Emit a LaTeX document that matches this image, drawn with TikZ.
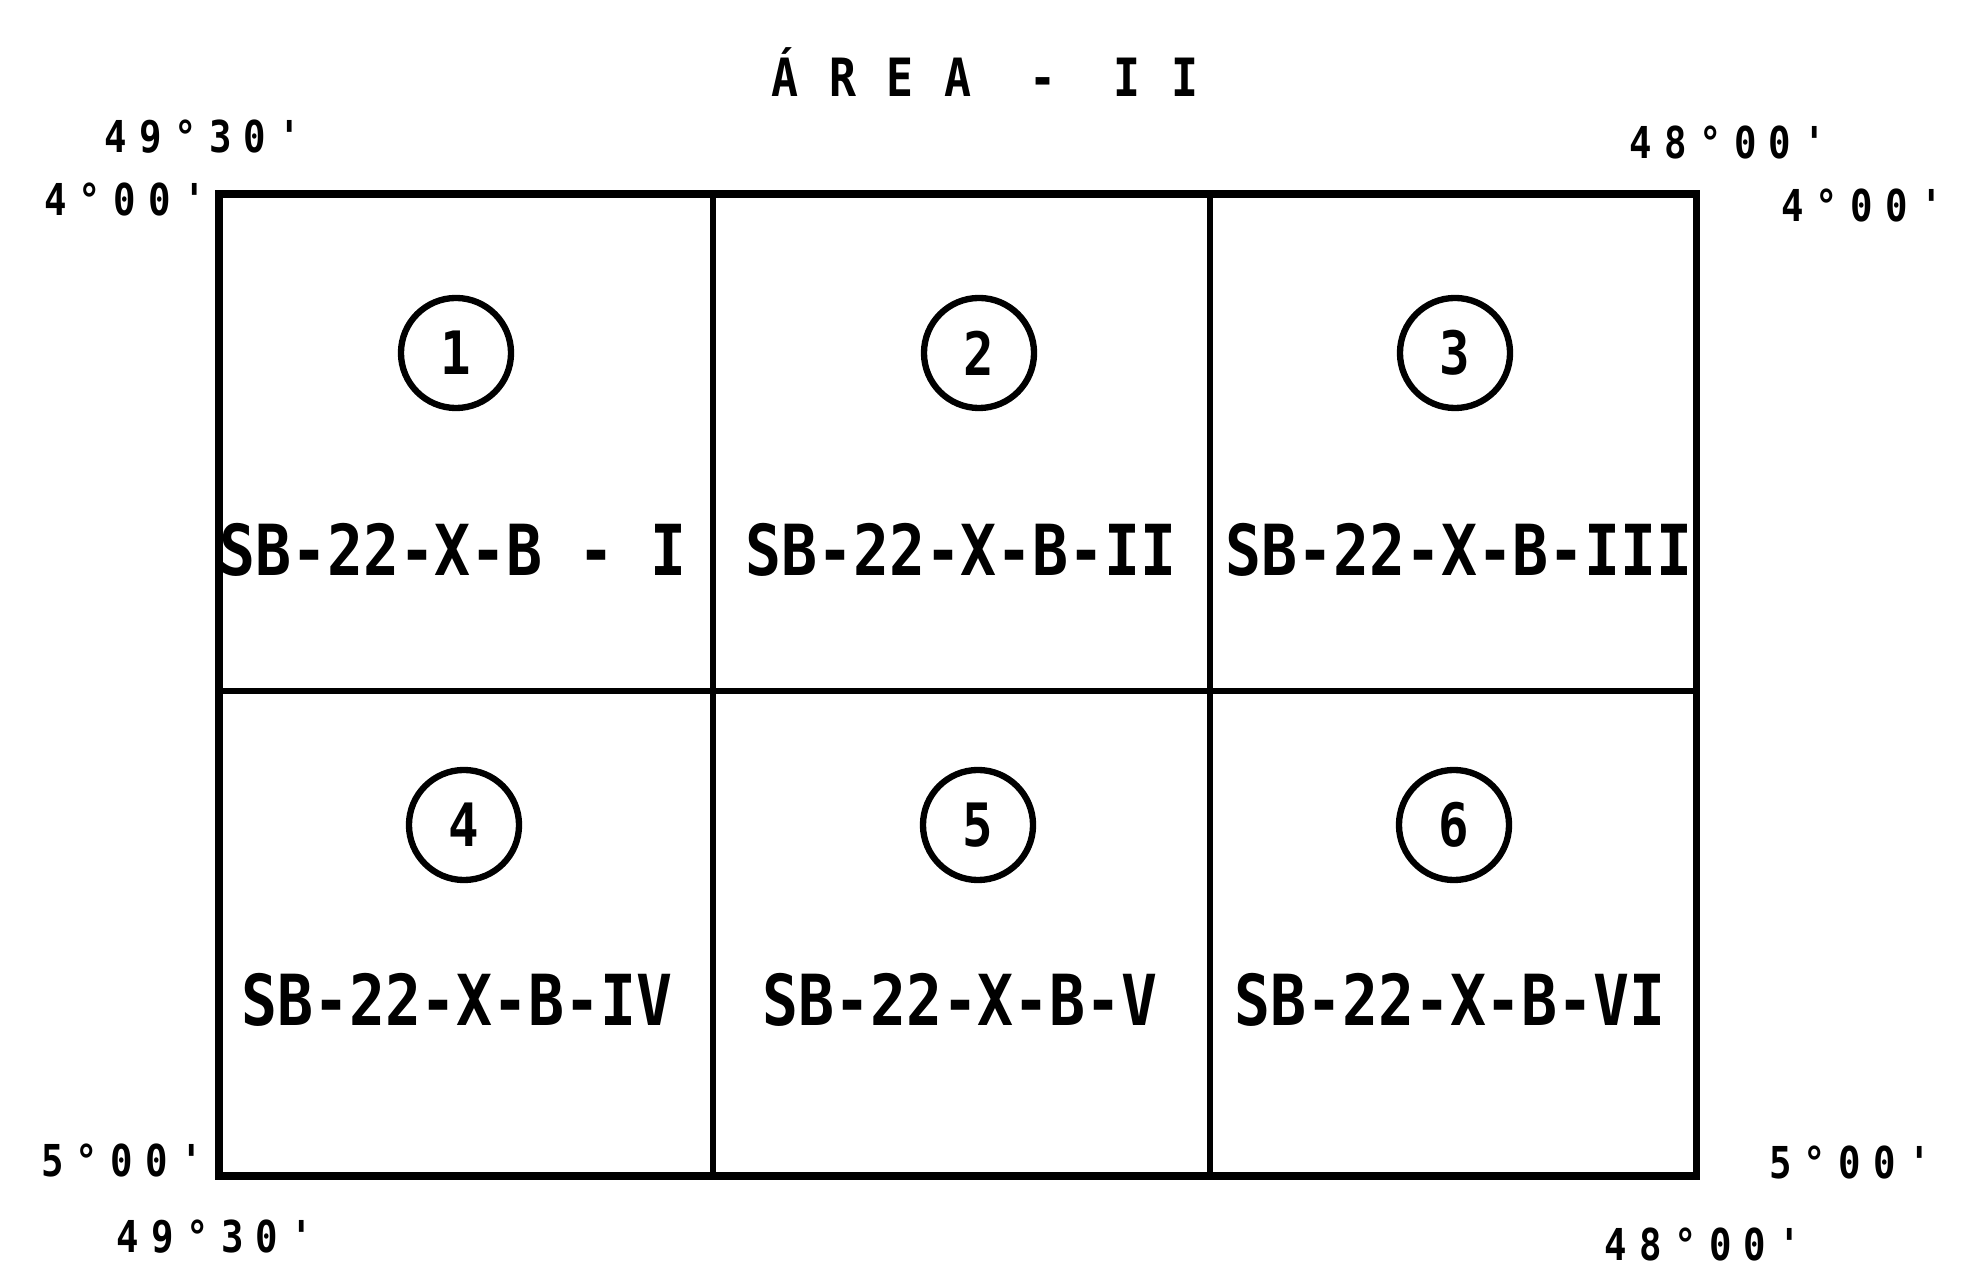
\documentclass[tikz,border=0pt]{standalone}
\usepackage{fontspec}
\newfontfamily\lettering[FakeStretch=0.85]{DejaVu Sans Mono}
\begin{document}
\begin{tikzpicture}[x=0.01cm,y=-0.01cm,
  every node/.style={inner sep=0pt,font=\lettering\bfseries},
  num/.style={circle,draw,line width=1.8pt,minimum size=1.1cm,font=\lettering\bfseries\fontsize{17}{17}\selectfont},
  sheet/.style={font=\lettering\bfseries\fontsize{20}{20}\selectfont},
  deg/.style={font=\lettering\bfseries\fontsize{12.5}{12.5}\selectfont\addfontfeature{LetterSpace=28}},
  head/.style={font=\lettering\bfseries\fontsize{15}{15}\selectfont\addfontfeature{LetterSpace=58}}]
  \useasboundingbox (0,0) rectangle (1961,1280);
  \coordinate (nw) at (219,194); \coordinate (ne) at (1696,194);
  \coordinate (sw) at (219,1176); \coordinate (se) at (1696,1176);
  \coordinate (w) at (219,691); \coordinate (e) at (1696,691);
  \coordinate (n1) at (713,194); \coordinate (s1) at (713,1176);
  \coordinate (n2) at (1210,194); \coordinate (s2) at (1210,1176);
  \draw[line width=2pt] (nw)--(ne)--(se)--(sw)--cycle;
  \draw[line width=1.6pt] (w)--(e); \draw[line width=1.6pt] (n1)--(s1); \draw[line width=1.6pt] (n2)--(s2);
  \node[head] (title) at (985,72) {ÁREA - II};
  \node[deg] (lon1) at (203,137) {49°30'}; \node[deg] (lat1) at (125,200) {4°00'};
  \node[deg] (lon2) at (1728,143) {48°00'}; \node[deg] (lat2) at (1862,206) {4°00'};
  \node[deg] (lat3) at (122,1160) {5°00'}; \node[deg] (lon3) at (215,1237) {49°30'};
  \node[deg] (lat4) at (1850,1162) {5°00'}; \node[deg] (lon4) at (1703,1244) {48°00'};
  \foreach \i/\cx/\cy/\lx/\ly/\t in {1/456/353/453/550/SB-22-X-B - I,2/979/353/961/550/SB-22-X-B-II,
    3/1455/353/1459/550/SB-22-X-B-III,4/464/825/457/1000/SB-22-X-B-IV,
    5/978/825/960/1000/SB-22-X-B-V,6/1454/825/1450/1000/SB-22-X-B-VI}
  {\node[num] (c\i) at (\cx,\cy) {\i}; \node[sheet] (s\i) at (\lx,\ly) {\t};}
\end{tikzpicture}
\end{document}
